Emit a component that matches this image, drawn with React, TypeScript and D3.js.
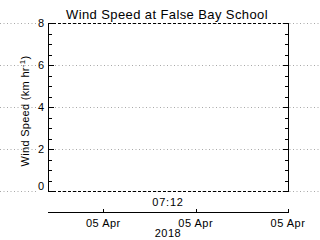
import React from "react";
import * as d3 from "d3";

const titleText = "Wind Speed at False Bay School";
const yLabelMain = "Wind Speed (km hr";
const yLabelSup = "-1";
const yTicks = [0, 2, 4, 6, 8];
const yMinorStep = 0.5;
const yDomain = [0, 8];
const timeDomain = [new Date(2018, 3, 5, 7, 11, 24), new Date(2018, 3, 5, 7, 14, 0)];
const xTickTimes = [new Date(2018, 3, 5, 7, 12, 0), new Date(2018, 3, 5, 7, 13, 0), new Date(2018, 3, 5, 7, 14, 0)];
const xTickLabels = ["05 Apr", "05 Apr", "05 Apr"];
const timeLabel = "07:12";
const yearLabel = "2018";

const W = 320, H = 240;
const L = 48, R = 288, T = 23, B = 191;
const FONT = "'Liberation Sans', Arial, sans-serif";

export default function App() {
  const y = d3.scaleLinear().domain(yDomain).range([B, T]);
  const x = d3.scaleTime().domain(timeDomain).range([L, R]);
  const minor = d3.range(yDomain[0], yDomain[1] + 0.001, yMinorStep);
  const axisY = 212.5;
  const cx = (L + R) / 2;
  return (
    <svg width={W} height={H} style={{ position: "absolute", left: 0, top: 0, background: "#fff" }}>
      <rect x={0} y={0} width={W} height={H} fill="#fff" />
      {/* gridlines */}
      {yTicks.map((t) => (
        <g key={"g" + t} stroke="#a8a8a8" strokeWidth={1} strokeDasharray="1,2.5">
          <line x1={0} x2={37} y1={Math.round(y(t)) + 0.5} y2={Math.round(y(t)) + 0.5} />
          <line x1={L} x2={W} y1={Math.round(y(t)) + 0.5} y2={Math.round(y(t)) + 0.5} />
        </g>
      ))}
      {/* plot frame */}
      <g shapeRendering="crispEdges" stroke="#000" strokeWidth={1}>
        <line x1={L} x2={R + 1} y1={T + 0.5} y2={T + 0.5} strokeDasharray="3,2" />
        <line x1={L} x2={R + 1} y1={B + 0.5} y2={B + 0.5} strokeDasharray="3,2" />
        <line x1={L + 0.5} x2={L + 0.5} y1={T} y2={B + 1} />
        <line x1={R + 0.5} x2={R + 0.5} y1={T} y2={B + 1} />
        {minor.map((v) => {
          const major = yTicks.includes(v);
          const len = major ? 5 : 3;
          const yy = Math.round(y(v)) + 0.5;
          return (
            <g key={"m" + v}>
              <line x1={L} x2={L + len + 1} y1={yy} y2={yy} />
              <line x1={R + 1} x2={R - len} y1={yy} y2={yy} />
            </g>
          );
        })}
        {/* lower time axis */}
        <line x1={L} x2={R + 1} y1={axisY} y2={axisY} />
        {xTickTimes.map((t, i) => (
          <line key={"xt" + i} x1={Math.round(x(t)) + 0.5} x2={Math.round(x(t)) + 0.5} y1={axisY} y2={axisY - 4} />
        ))}
      </g>
      {/* y tick labels */}
      {yTicks.map((t) => (
        <text key={"yl" + t} x={44} y={t === 0 ? y(t) - 1 : y(t) + 4} textAnchor="end" fontFamily={FONT} fontSize={11} fill="#000">
          {t}
        </text>
      ))}
      {/* x tick labels */}
      {xTickTimes.map((t, i) => (
        <text key={"xl" + i} x={x(t)} y={227} textAnchor="middle" fontFamily={FONT} fontSize={11} letterSpacing={0.5} fill="#000">
          {xTickLabels[i]}
        </text>
      ))}
      <text x={cx} y={206} textAnchor="middle" fontFamily={FONT} fontSize={11} letterSpacing={0.8} fill="#000">
        {timeLabel}
      </text>
      <text x={cx} y={237} textAnchor="middle" fontFamily={FONT} fontSize={11} letterSpacing={0.5} fill="#000">
        {yearLabel}
      </text>
      {/* title */}
      <text x={cx - 1} y={19} textAnchor="middle" fontFamily={FONT} fontSize={13} letterSpacing={0.4} fill="#000">
        {titleText}
      </text>
      {/* y axis title */}
      <text transform={`translate(29,111) rotate(-90)`} textAnchor="middle" fontFamily={FONT} fontSize={11} letterSpacing={0.3} fill="#000">
        {yLabelMain}
        <tspan fontSize={8} dy={-4}>{yLabelSup}</tspan>
        <tspan dy={4}>)</tspan>
      </text>
    </svg>
  );
}
